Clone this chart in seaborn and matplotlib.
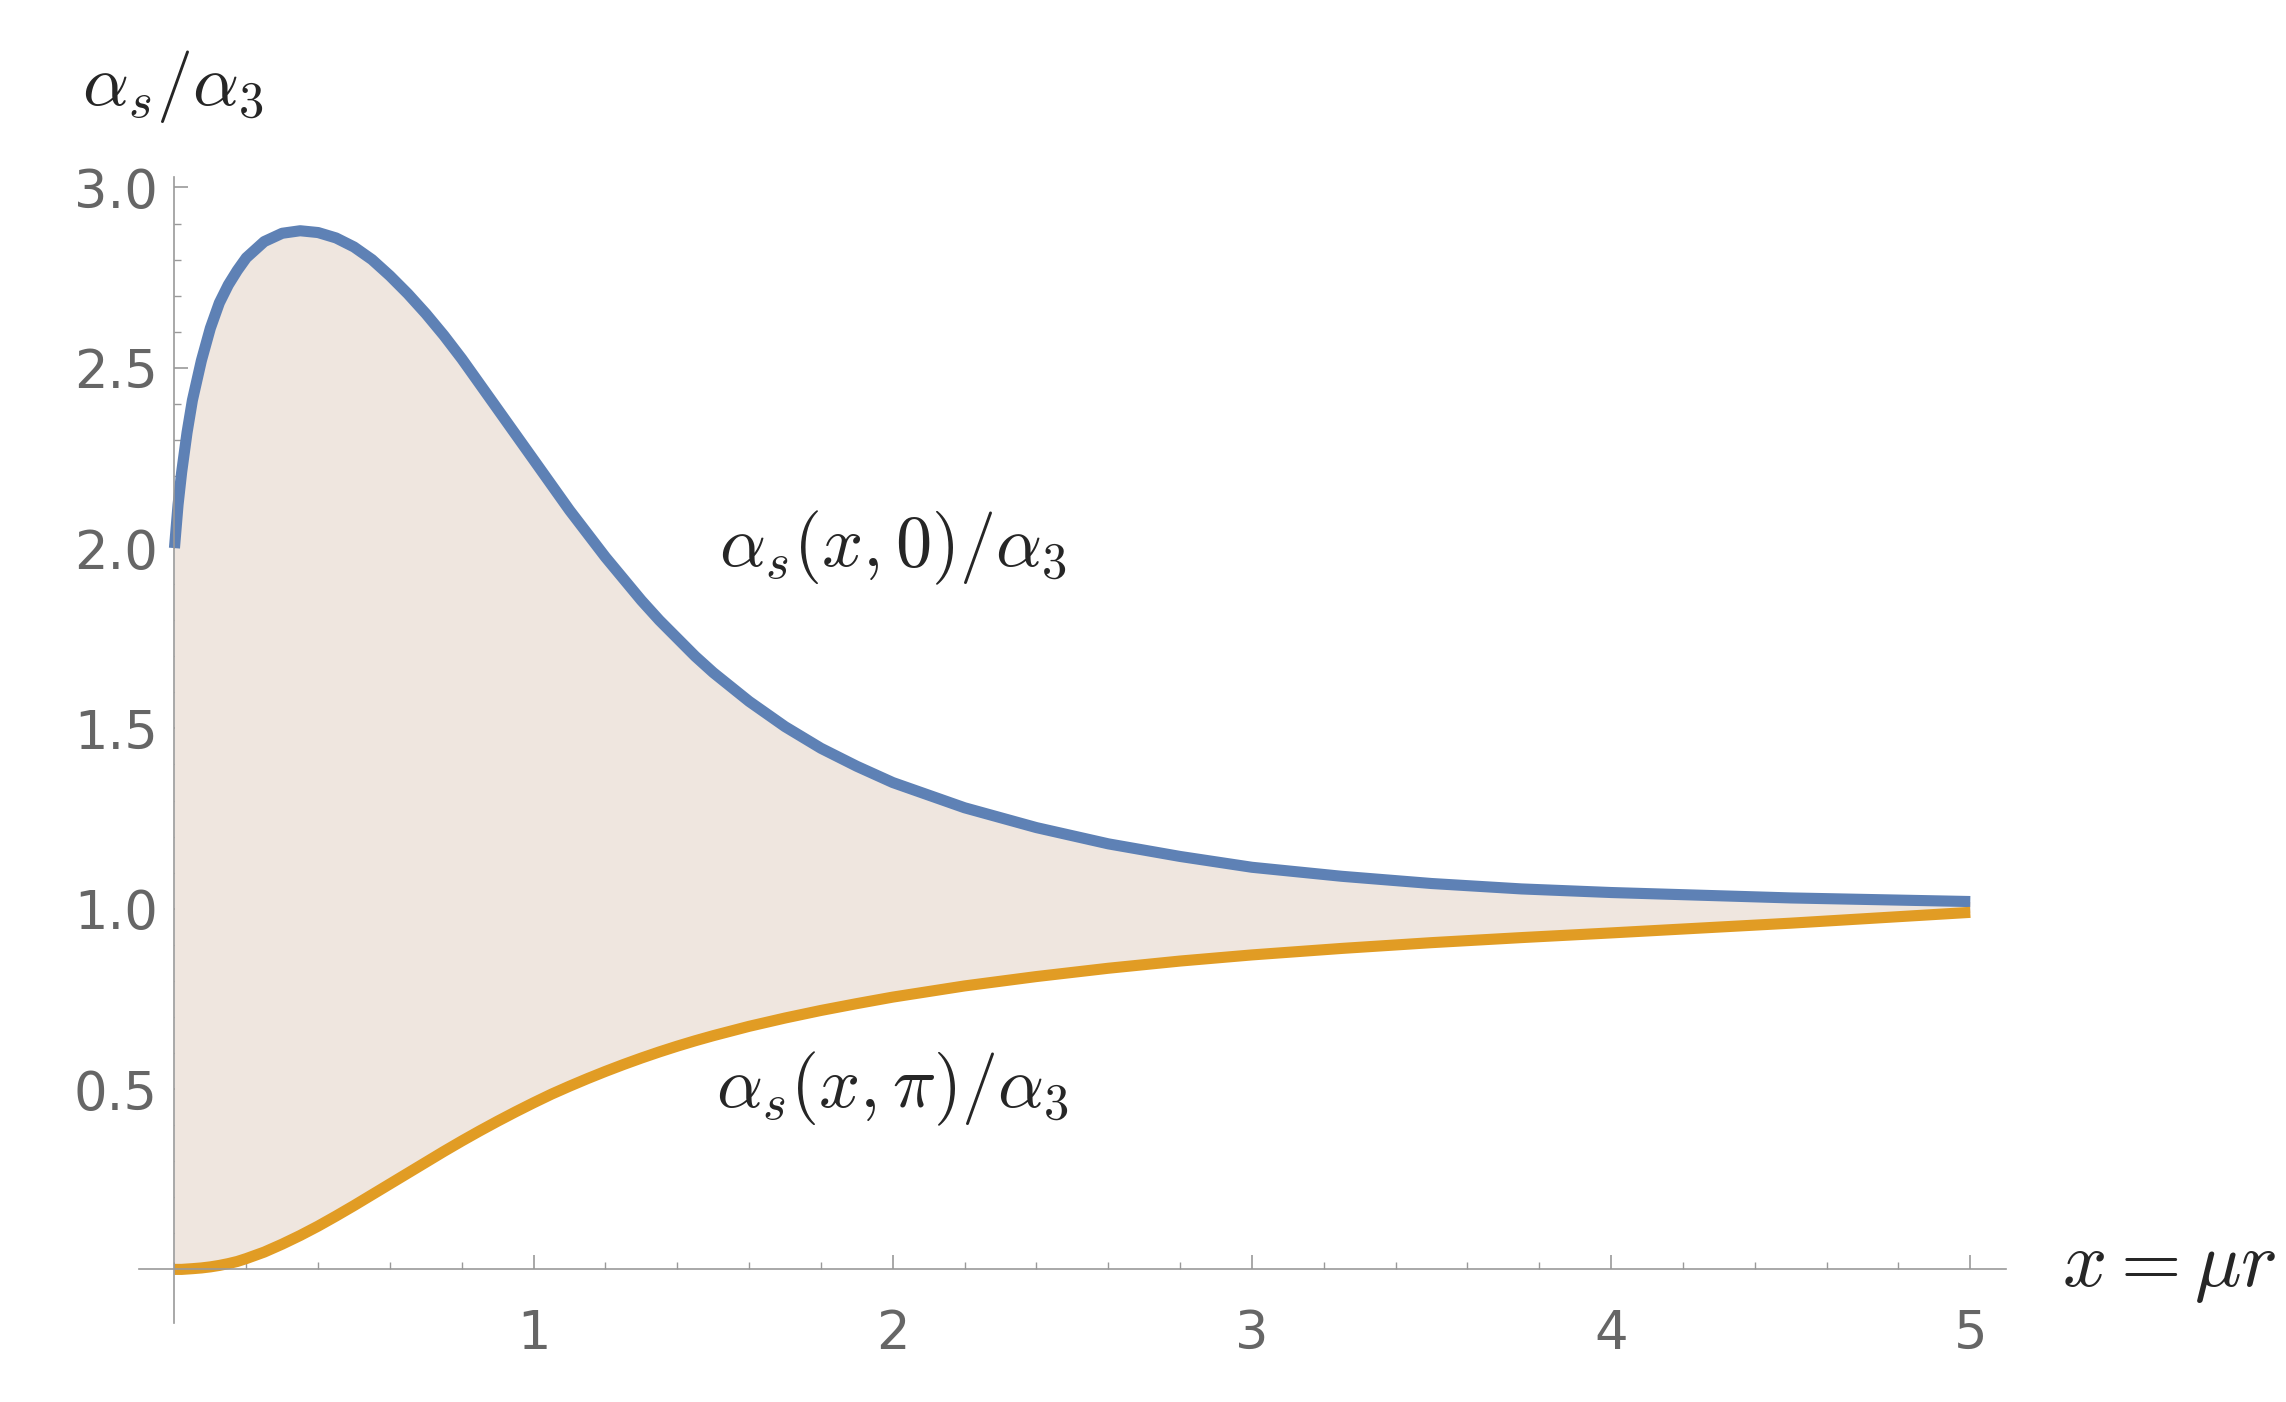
import matplotlib
matplotlib.use("Agg")
import matplotlib.pyplot as plt
import seaborn as sns
import numpy as np
import pandas as pd

sns.set_theme(style="white")
plt.rcParams['mathtext.fontset'] = 'cm'
plt.rcParams['font.family'] = ['DejaVu Sans']

x_pts = [0.0, 0.01, 0.02, 0.035, 0.05, 0.075, 0.1, 0.125, 0.15, 0.175, 0.2, 0.25, 0.3, 0.35, 0.4, 0.45,
         0.5, 0.55, 0.6, 0.65, 0.7, 0.75, 0.8, 0.85, 0.9, 0.95, 1.0, 1.05, 1.1, 1.15, 1.2, 1.25, 1.3,
         1.35, 1.4, 1.45, 1.5, 1.6, 1.7, 1.8, 1.9, 2.0, 2.2, 2.4, 2.6, 2.8, 3.0, 3.25, 3.5, 3.75,
         4.0, 4.5, 5.0]
blue = [2.0, 2.12, 2.21, 2.32, 2.41, 2.52, 2.61, 2.68, 2.73, 2.77, 2.805, 2.85, 2.873, 2.88, 2.875, 2.86,
        2.835, 2.8, 2.755, 2.705, 2.65, 2.59, 2.525, 2.455, 2.385, 2.315, 2.245, 2.175, 2.105, 2.04, 1.975, 1.915, 1.855,
        1.8, 1.75, 1.70, 1.655, 1.575, 1.505, 1.445, 1.395, 1.35, 1.28, 1.225, 1.18, 1.145, 1.115, 1.09, 1.07, 1.055,
        1.045, 1.03, 1.02]
orange = [0.0, 0.0, 0.0, 0.001, 0.002, 0.004, 0.007, 0.011, 0.016, 0.022, 0.03, 0.048, 0.07, 0.094, 0.12, 0.148,
          0.177, 0.207, 0.237, 0.267, 0.297, 0.327, 0.356, 0.384, 0.411, 0.437, 0.462, 0.486, 0.508, 0.529, 0.549, 0.568, 0.586,
          0.603, 0.619, 0.634, 0.648, 0.674, 0.697, 0.718, 0.737, 0.755, 0.786, 0.812, 0.835, 0.855, 0.872, 0.89, 0.906, 0.92,
          0.933, 0.96, 0.99]

df = pd.DataFrame({"x": x_pts, "blue": blue, "orange": orange})

fig = plt.figure(figsize=(22.86, 14.02), dpi=100)
ax = fig.add_axes([0.0606, 0.056, 0.817, 0.818])

ax.fill_between(df["x"], df["orange"], df["blue"], color="#EFE6DF", lw=0)
sns.lineplot(data=df, x="x", y="blue", ax=ax, color="#5E81B5", lw=8, solid_capstyle="butt")
sns.lineplot(data=df, x="x", y="orange", ax=ax, color="#E19C24", lw=8, solid_capstyle="butt")

ax.set_xlim(-0.1, 5.1)
ax.set_ylim(-0.15, 3.03)
for s in ["top", "right"]:
    ax.spines[s].set_visible(False)
ax.spines["left"].set_position(("data", 0))
ax.spines["bottom"].set_position(("data", 0))
for s in ["left", "bottom"]:
    ax.spines[s].set_color("#999999")
    ax.spines[s].set_linewidth(1.2)

ax.set_xticks([1, 2, 3, 4, 5])
ax.set_xticks(np.arange(0, 5.01, 0.2), minor=True)
ax.set_yticks([0.5, 1.0, 1.5, 2.0, 2.5, 3.0])
ax.set_yticklabels(["0.5", "1.0", "1.5", "2.0", "2.5", "3.0"])
ax.set_yticks(np.arange(0, 3.01, 0.1), minor=True)
ax.tick_params(axis="both", which="major", length=10, width=1.2, color="#999999",
               labelsize=38, labelcolor="#666666", direction="in", bottom=True, left=True)
ax.tick_params(axis="both", which="minor", length=5, width=1.0, color="#999999",
               direction="in", bottom=True, left=True)
ax.tick_params(axis="x", which="major", pad=28)
ax.tick_params(axis="y", which="major", pad=12)
ax.set_xlabel("")
ax.set_ylabel("")

fig.text(0.036, 0.925, r"$\alpha_s/\alpha_3$", fontsize=52, ha="left", va="baseline")
fig.text(0.902, 0.083, r"$x=\mu r$", fontsize=56, ha="left", va="baseline")
ax.text(2.0, 2.0, r"$\alpha_s(x,0)/\alpha_3$", fontsize=52, ha="center", va="center")
ax.text(2.0, 0.5, r"$\alpha_s(x,\pi)/\alpha_3$", fontsize=52, ha="center", va="center")

fig.savefig("out.png", dpi=100, facecolor="white")
